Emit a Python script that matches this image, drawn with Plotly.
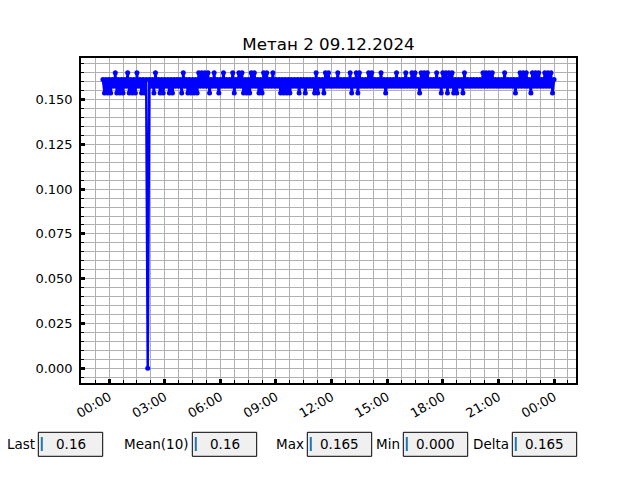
import plotly.graph_objects as go
from datetime import datetime, timedelta

# ---- data (5-minute samples) ----
TITLE = "Метан 2 09.12.2024"
START = "2024-12-08 23:40"
STEP_MIN = 5
LEVELS = {"0": 0.15375, "1": 0.1575, "2": 0.16125, "3": 0.165, "z": 0.0}
CODES = (
    "2020202130" "2020213020" "203120202z" "2120312020" "2120202121"
    "2031202020" "2031313130" "2131202131" "2121302131" "3020203131"
    "2020313121" "3121202020" "2021212021" "2021212030" "2120313121"
    "2131212121" "3021303121" "2131312121" "3120212121" "3121213121"
    "3131203131" "3121213120" "3130313020" "2120312121" "2121213131"
    "3131212121" "3121212021" "3131312031" "3131213131" "302"
)
X_TICK0 = "2024-12-09 00:00"
X_RANGE = ["2024-12-08 22:29", "2024-12-10 01:11"]
Y_RANGE = [-0.00825, 0.17325]

STAT_LABELS = ["Last", "Mean(10)", "Max", "Min", "Delta"]
STAT_VALUES = ["0.16", "0.16", "0.165", "0.000", "0.165"]

t0 = datetime.strptime(START, "%Y-%m-%d %H:%M")
times = [t0 + timedelta(minutes=STEP_MIN * i) for i in range(len(CODES))]
values = [LEVELS[c] for c in CODES]

# ---- layout geometry (page pixels; the page body adds an 8px offset) ----
OFF = 8
W, H = 640, 480
L, R, T, B = 81, 576, 58, 383
FONT = "DejaVu Sans"


def px(x):
    return (x - L) / (R - L)


def py(y):
    return (B - y) / (B - T)


fig = go.Figure()
fig.add_trace(go.Scatter(
    x=times, y=values, mode="lines+markers",
    line=dict(color="#0000ff", width=2.5, simplify=False),
    marker=dict(color="#0000ff", size=5),
    showlegend=False,
))

grid = "#b0b0b0"
fig.update_layout(
    width=W, height=H,
    margin=dict(l=L - OFF, r=W - (R - OFF), t=T - OFF, b=H - (B - OFF)),
    paper_bgcolor="white", plot_bgcolor="white",
    font=dict(family=FONT, color="black", size=13),
    title=dict(text=TITLE, x=((L + R) / 2 - OFF) / W, xanchor="center",
               y=1 - (44 - OFF) / H, yanchor="middle",
               font=dict(size=16.7, family=FONT, color="black")),
    xaxis=dict(
        type="date", range=X_RANGE,
        tick0=X_TICK0, dtick=3 * 3600000, tickformat="%H:%M",
        tickangle=-30,
        ticks="inside", ticklen=4, tickwidth=2.5, tickcolor="black",
        showgrid=True, gridcolor=grid, gridwidth=1,
        minor=dict(dtick=45 * 60000, tick0=X_TICK0, ticks="inside",
                   ticklen=3, tickwidth=1, tickcolor="black",
                   showgrid=True, gridcolor=grid, gridwidth=1),
        showline=True, linecolor="black", linewidth=1.5, mirror=True,
        zeroline=False, tickfont=dict(size=13),
    ),
    yaxis=dict(
        range=Y_RANGE, tick0=0, dtick=0.025, tickformat=".3f",
        ticks="inside", ticklen=4, tickwidth=2.5, tickcolor="black",
        showgrid=True, gridcolor=grid, gridwidth=1,
        minor=dict(dtick=0.005, tick0=0, ticks="inside",
                   ticklen=3, tickwidth=1, tickcolor="black",
                   showgrid=True, gridcolor=grid, gridwidth=1),
        showline=True, linecolor="black", linewidth=1.5, mirror=True,
        zeroline=False, tickfont=dict(size=13), ticklabelstandoff=4,
    ),
)

# ---- stat boxes below the chart ----
box_left = [38.3, 192.3, 307.3, 403.3, 512.3]
box_w = 64.4
box_top, box_bot = 432.3, 456.3
shapes = []
annotations = []
for lab, val, bl in zip(STAT_LABELS, STAT_VALUES, box_left):
    shapes.append(dict(type="rect", xref="paper", yref="paper",
                       x0=px(bl), x1=px(bl + box_w), y0=py(box_bot), y1=py(box_top),
                       line=dict(color="black", width=1), fillcolor="#f0f0f0",
                       layer="above"))
    shapes.append(dict(type="line", xref="paper", yref="paper",
                       x0=px(bl + 3.5), x1=px(bl + 3.5), y0=py(451), y1=py(437),
                       line=dict(color="#1f77b4", width=2), layer="above"))
    annotations.append(dict(text=lab, xref="paper", yref="paper",
                            x=px(bl - 1.5), y=py(444), xanchor="right", yanchor="middle",
                            showarrow=False, font=dict(size=13.5, family=FONT)))
    annotations.append(dict(text=val, xref="paper", yref="paper",
                            x=px(bl + box_w / 2), y=py(444), xanchor="center",
                            yanchor="middle", showarrow=False,
                            font=dict(size=13.5, family=FONT)))
fig.update_layout(shapes=shapes, annotations=annotations)

fig.write_html("out.html")
